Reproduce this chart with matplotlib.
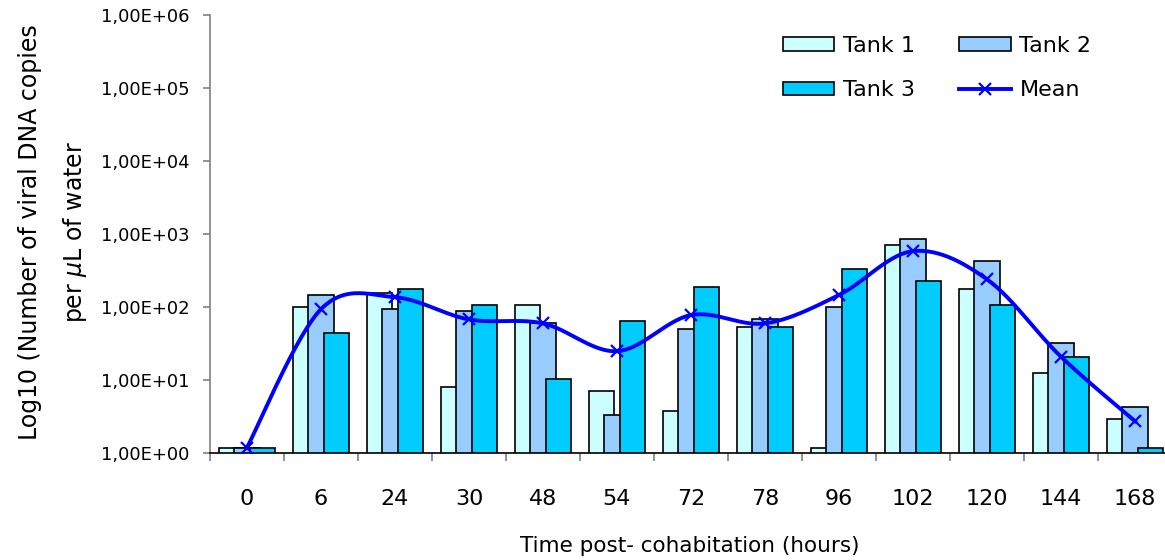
import numpy as np
import matplotlib
matplotlib.use('Agg')
import matplotlib.pyplot as plt
from matplotlib.ticker import FixedLocator, NullFormatter

hours = ['0', '6', '24', '30', '48', '54', '72', '78', '96', '102', '120', '144', '168']
tank1 = [1.2, 100, 155, 8.2, 106, 7.1, 3.8, 54, 1.2, 710, 177, 12.6, 2.95]
tank2 = [1.2, 146, 94, 89, 61, 3.3, 50, 69, 100, 850, 425, 32, 4.3]
tank3 = [1.2, 44, 176, 106, 10.3, 65, 187, 54, 330, 226, 106, 20.8, 1.2]
mean_vals = [1.2, 94, 137, 68, 60, 25, 78, 60, 147, 585, 241, 21, 2.75]

c1 = '#ccffff'
c2 = '#99ccff'
c3 = '#00ccff'
plt.rcParams['font.family'] = ['DejaVu Sans']


def smooth(xs, ys, n=30):
    # bezier smoothing like the spreadsheet "smoothed line", in log space
    xs = np.asarray(xs, float)
    ys = np.log10(np.asarray(ys, float))
    px = np.concatenate([[xs[0]], xs, [xs[-1]]])
    py = np.concatenate([[ys[0]], ys, [ys[-1]]])
    ox, oy = [], []
    t = np.linspace(0, 1, n)
    for i in range(1, len(px) - 2):
        p0 = np.array([px[i], py[i]])
        p3 = np.array([px[i + 1], py[i + 1]])
        p1 = p0 + (np.array([px[i + 1], py[i + 1]]) - np.array([px[i - 1], py[i - 1]])) / 6
        p2 = p3 - (np.array([px[i + 2], py[i + 2]]) - np.array([px[i], py[i]])) / 6
        b = ((1 - t) ** 3)[:, None] * p0 + (3 * (1 - t) ** 2 * t)[:, None] * p1 \
            + (3 * (1 - t) * t ** 2)[:, None] * p2 + (t ** 3)[:, None] * p3
        ox.extend(b[:, 0])
        oy.extend(b[:, 1])
    return np.array(ox), 10 ** np.array(oy)


fig = plt.figure(figsize=(11.65, 5.6), dpi=100)
ax = fig.add_axes([210 / 1165, (560 - 453.3) / 560, (1172 - 210) / 1165, (453.3 - 15) / 560])

x = np.arange(len(hours))
w = 0.34
off = 0.21
b1 = ax.bar(x - off, tank1, w, color=c1, edgecolor='black', linewidth=1.2)
b2 = ax.bar(x, tank2, w, color=c2, edgecolor='black', linewidth=1.2)
b3 = ax.bar(x + off, tank3, w, color=c3, edgecolor='black', linewidth=1.2)

sx, sy = smooth(x, mean_vals)
ax.plot(sx, sy, color='#0000ff', linewidth=2.8, zorder=5)
ax.plot(x, mean_vals, linestyle='none', marker='x', color='#0000ff',
        markersize=9, markeredgewidth=1.6, zorder=6)
mean_handle, = ax.plot([], [], color='#0000ff', linewidth=2.8, marker='x',
                       markersize=9, markeredgewidth=1.6)

ax.set_yscale('log')
ax.set_ylim(1, 1e6)
ax.set_xlim(-0.5, 12.5)
ax.set_yticks([10 ** k for k in range(7)])
ax.set_yticklabels(['1,00E+%02d' % k for k in range(7)], fontsize=13)
ax.yaxis.set_minor_locator(FixedLocator([]))

ax.xaxis.set_major_locator(FixedLocator(np.arange(-0.5, 13, 1)))
ax.xaxis.set_major_formatter(NullFormatter())
ax.xaxis.set_minor_locator(FixedLocator(x))
ax.set_xticklabels(hours, minor=True, fontsize=16)
ax.tick_params(axis='x', which='major', length=6, color='#808080', width=1.2)
ax.tick_params(axis='x', which='minor', length=0, pad=26)
ax.tick_params(axis='y', which='major', length=5, color='#808080', width=1.2, pad=10)

ax.spines['top'].set_visible(False)
ax.spines['right'].set_visible(False)
ax.spines['left'].set_color('#808080')
ax.spines['left'].set_linewidth(1.2)
ax.spines['bottom'].set_color('black')
ax.spines['bottom'].set_linewidth(1.2)

fig.text(690 / 1165, 1 - 546 / 560, 'Time post- cohabitation (hours)', ha='center', va='center', fontsize=15.5)
fig.text(30 / 1165, 1 - 232 / 560, 'Log10 (Number of viral DNA copies', rotation=90,
         ha='center', va='center', fontsize=17)
fig.text(75 / 1165, 1 - 232 / 560, r'per $\mu$L of water', rotation=90,
         ha='center', va='center', fontsize=17)

# legend filled column-wise: col 1 = Tank 1, Tank 3 ; col 2 = Tank 2, Mean
leg = ax.legend([b1, b3, b2, mean_handle], ['Tank 1', 'Tank 3', 'Tank 2', 'Mean'],
                ncol=2, frameon=False, fontsize=16,
                loc='upper left', bbox_to_anchor=((783 - 210) / 962, (453.3 - 36) / 438.3),
                handlelength=2.3, handleheight=0.55, columnspacing=2.0, labelspacing=1.1,
                handletextpad=0.4, borderaxespad=0, borderpad=0)

fig.savefig('out.png', dpi=100)
